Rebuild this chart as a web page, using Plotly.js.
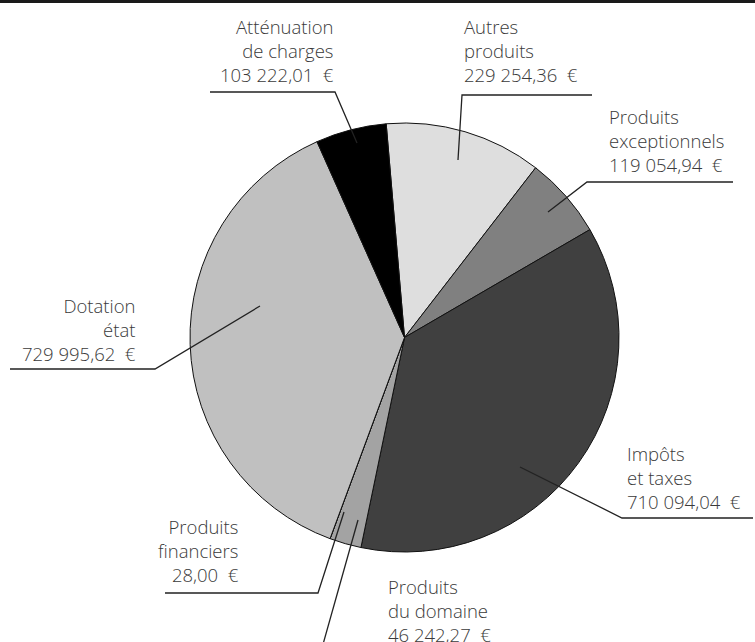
<!DOCTYPE html>
<html>
<head>
<meta charset="utf-8">
<script src="https://cdn.plot.ly/plotly-3.0.1.min.js"></script>
<style>html,body{margin:0;padding:0;background:#fff;}#chart{width:755px;height:642px;}</style>
</head>
<body>
<div id="chart"></div>
<script>
// ---- data (clockwise from the top) ----
var categories = ["Autres<br>produits", "Produits<br>exceptionnels", "Impôts<br>et taxes",
                  "Produits<br>du domaine", "Produits<br>financiers", "Dotation<br>état",
                  "Atténuation<br>de charges"];
var values = [229254.36, 119054.94, 710094.04, 46242.27, 28.00, 729995.62, 103222.01];
var sliceColors = ["#dedede", "#808080", "#404040", "#a3a3a3", "#ffffff", "#c0c0c0", "#000000"];

// ---- label placement (pixels) ----
var W = 755, H = 642;
var labelPos = [
  {x: 462, y: 50,  align: "left",  pts: [[592,95],[462,95],[458,160]]},
  {x: 607, y: 140, align: "left",  pts: [[733,182],[587,182],[548,212]]},
  {x: 625, y: 477, align: "left",  pts: [[753,518],[622,518],[520,467]]},
  {x: 386, y: 610, align: "left",  pts: [[358,520],[320,655]]},
  {x: 241, y: 550, align: "right", pts: [[165,593],[318,593],[344,512]]},
  {x: 138, y: 330, align: "right", pts: [[10,369],[155,369],[260,306]]},
  {x: 336, y: 50,  align: "right", pts: [[210,92],[335,92],[357,143]]}
];

function fmt(v) {
  var parts = v.toFixed(2).split(".");
  var intPart = parts[0].replace(/\B(?=(\d{3})+(?!\d))/g, " ");
  return intPart + "," + parts[1] + "\u00a0\u00a0€";
}

var cx = 404.5, cy = 337.5, r = 214.5;

var trace = {
  type: "pie",
  values: values,
  labels: categories,
  marker: {colors: sliceColors, line: {color: "#111111", width: 1}},
  sort: false,
  direction: "clockwise",
  rotation: -4.9,
  textinfo: "none",
  hoverinfo: "skip",
  showlegend: false,
  domain: {x: [(cx - r) / W, (cx + r) / W], y: [(H - cy - r) / H, (H - cy + r) / H]}
};

var annotations = [];
var shapes = [];
for (var i = 0; i < categories.length; i++) {
  var p = labelPos[i];
  annotations.push({
    xref: "paper", yref: "paper",
    x: p.x / W, y: 1 - p.y / H,
    xanchor: p.align, yanchor: "middle", align: p.align,
    text: categories[i] + "<br>" + fmt(values[i]),
    showarrow: false,
    font: {family: "Open Sans, sans-serif", size: 18.5, color: "#3a3a3a", weight: 300}
  });
  var path = "";
  for (var k = 0; k < p.pts.length; k++) {
    path += (k === 0 ? "M" : "L") + (p.pts[k][0] / W) + "," + (1 - p.pts[k][1] / H);
  }
  shapes.push({type: "path", xref: "paper", yref: "paper", path: path,
               line: {color: "#222222", width: 1.3}});
}
// top rule
shapes.push({type: "line", xref: "paper", yref: "paper", x0: 0, x1: 1,
             y0: 1 - 1.5 / H, y1: 1 - 1.5 / H, line: {color: "#1a1a1a", width: 3}});

var layout = {
  width: W, height: H,
  margin: {l: 0, r: 0, t: 0, b: 0},
  paper_bgcolor: "#ffffff",
  plot_bgcolor: "#ffffff",
  showlegend: false,
  annotations: annotations,
  shapes: shapes
};

Plotly.newPlot("chart", [trace], layout, {staticPlot: true, displayModeBar: false});
</script>
</body>
</html>
